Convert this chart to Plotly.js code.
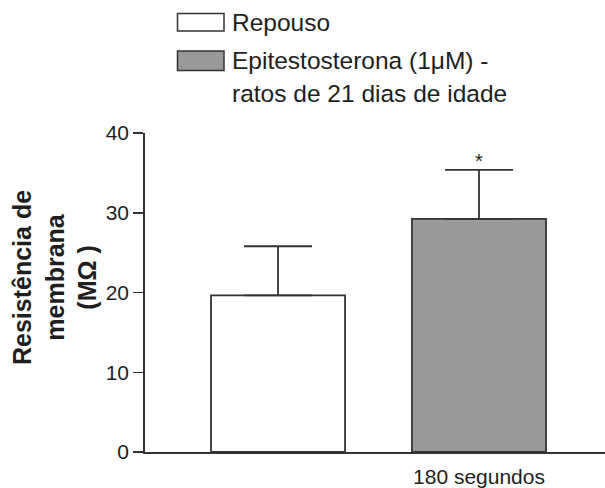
<!DOCTYPE html>
<html>
<head>
<meta charset="utf-8">
<script src="https://cdn.plot.ly/plotly-3.0.1.min.js"></script>
<style>html,body{margin:0;padding:0;background:#fff;}#chart{width:605px;height:488px;}</style>
</head>
<body>
<div id="chart"></div>
<script>
// ---- data ----
const categories = ['Repouso', 'Epitestosterona'];
const legendLabels = ['Repouso', 'Epitestosterona (1\u03bcM) -', 'ratos de 21 dias de idade'];
const meanValues = [19.65, 29.23];
const errorValues = [6.15, 6.15];
const tickLabels = ['', '180 segundos'];
const significance = ['', '*'];
const yTicks = [0, 10, 20, 30, 40];

// ---- layout helpers ----
const W = 605, H = 488;
const mL = 145, mR = 0, mT = 133, mB = 36;
const pw = W - mL - mR, ph = H - mT - mB;
const px = x => (x - mL) / pw;
const py = y => (H - mB - y) / ph;

const FONT = '"Liberation Sans", Arial, Helvetica, sans-serif';
const INK = '#1e1e1e';
const LINE = '#333333';
const fills = ['#ffffff', '#999999'];

const trace = {
  type: 'bar',
  x: categories,
  y: meanValues,
  width: 0.667,
  marker: {color: fills, line: {color: LINE, width: 1.8}},
  error_y: {type: 'data', symmetric: false, array: errorValues, arrayminus: [0, 0],
            color: LINE, thickness: 1.8, width: 34},
  hoverinfo: 'none',
  showlegend: false
};

const annotations = [];
// significance markers
categories.forEach((c, i) => {
  if (significance[i]) {
    annotations.push({x: c, y: meanValues[i] + errorValues[i] + 1.1, xref: 'x', yref: 'y',
      text: significance[i], showarrow: false, xanchor: 'center', yanchor: 'middle',
      font: {family: FONT, size: 20, color: INK}});
  }
});
// y title
annotations.push({x: px(54), y: py(278), xref: 'paper', yref: 'paper', textangle: -90,
  text: '<b>Resistência de<br>membrana<br>(M\u03a9 )</b>', showarrow: false,
  xanchor: 'center', yanchor: 'middle', font: {family: FONT, size: 25, color: INK}});
// legend text
const legY = [22.5, 60, 93];
legendLabels.forEach((t, i) => {
  annotations.push({x: px(230), y: py(legY[i]), xref: 'paper', yref: 'paper', text: t,
    showarrow: false, xanchor: 'left', yanchor: 'middle',
    font: {family: FONT, size: 24.5, color: INK}});
});

const shapes = [
  {type: 'rect', xref: 'paper', yref: 'paper', x0: px(177.5), x1: px(224), y0: py(13.5), y1: py(31),
   fillcolor: fills[0], line: {color: LINE, width: 1.5}},
  {type: 'rect', xref: 'paper', yref: 'paper', x0: px(177.5), x1: px(224), y0: py(51), y1: py(70.5),
   fillcolor: fills[1], line: {color: LINE, width: 1.5}}
];

const layout = {
  width: W, height: H,
  margin: {l: mL, r: mR, t: mT, b: mB, pad: 0},
  paper_bgcolor: '#fff', plot_bgcolor: '#fff',
  showlegend: false,
  xaxis: {
    type: 'category', categoryorder: 'array', categoryarray: categories,
    range: [-0.662, 1.627], tickvals: categories, ticktext: tickLabels,
    ticks: '', ticklabelstandoff: 5, showgrid: false, zeroline: false, showline: true,
    linecolor: LINE, linewidth: 1.8, tickfont: {family: FONT, size: 21, color: INK},
    fixedrange: true
  },
  yaxis: {
    range: [0, 40], tickvals: yTicks, ticks: 'outside', ticklen: 10, tickwidth: 1.5,
    tickcolor: LINE, showgrid: false, zeroline: false, showline: true, linecolor: LINE,
    linewidth: 1.8, tickfont: {family: FONT, size: 21, color: INK}, fixedrange: true
  },
  annotations: annotations,
  shapes: shapes,
  font: {family: FONT, color: INK}
};

Plotly.newPlot('chart', [trace], layout, {staticPlot: true, displayModeBar: false});
</script>
</body>
</html>
